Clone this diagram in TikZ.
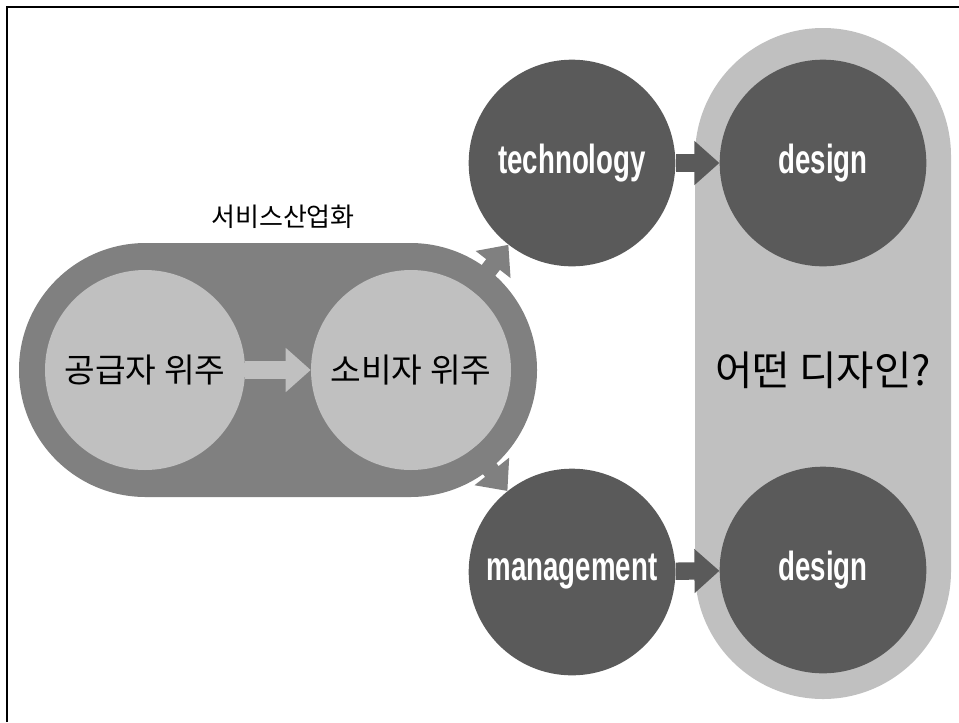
\documentclass[tikz,border=0pt]{standalone}
\usepackage{fontspec}
\newfontfamily\kofont{Noto Sans CJK KR}
\newfontfamily\enfont[FakeStretch=0.68]{Liberation Sans}
\usetikzlibrary{arrows.meta}
\definecolor{ringgray}{HTML}{808080}
\definecolor{palegray}{HTML}{C0C0C0}
\definecolor{darkgray}{HTML}{5A5A5A}
\tikzset{
	palecircle/.style={circle,fill=palegray,minimum size=150pt,inner sep=0pt,font=\kofont\fontsize{25}{29}\selectfont},
	darkcircle/.style={circle,fill=darkgray,minimum size=155pt,inner sep=0pt,text=white,font=\enfont\bfseries\fontsize{30.5}{34}\selectfont},
	fatarrow/.style={line width=13pt,-{Triangle[length=18.75pt,width=32pt]}}
}
\begin{document}
\begin{tikzpicture}[x=0.75pt,y=-0.75pt]
			\useasboundingbox (0,0) rectangle (959,722);
			% frame
			\draw[line width=2pt] (7,722) -- (7,7) -- (959,7);

			% design band
			\fill[palegray,rounded corners=96pt] (695,28) rectangle (951,699);
			\node[font=\kofont\fontsize{30.5}{34}\selectfont] (which) at (823,370) {어떤 디자인?};

			% service band
			\fill[ringgray,rounded corners=95pt] (19,243) rectangle (537,497);
			\node[font=\kofont\fontsize{19.5}{23}\selectfont] (band) at (283,217) {서비스산업화};

			% circles
			\node[palecircle] (supp) at (145,370) {공급자 위주};
			\node[palecircle] (cons) at (411,370) {소비자 위주};
			\node[darkcircle] (tech) at (572,163) {technology};
			\node[darkcircle] (mgmt) at (572,572) {management};
			\node[darkcircle] (dtop) at (823,163) {design};
			\node[darkcircle] (dbot) at (823,570) {design};

			% arrows
			\draw[fatarrow,palegray] (supp) -- (cons);
			\draw[fatarrow,ringgray] (cons) -- (tech);
			\draw[fatarrow,ringgray] (cons) -- (mgmt);
			\draw[fatarrow,darkgray] (tech) -- (dtop);
			\draw[fatarrow,darkgray] (mgmt) -- (dbot);
		\end{tikzpicture}
\end{document}
